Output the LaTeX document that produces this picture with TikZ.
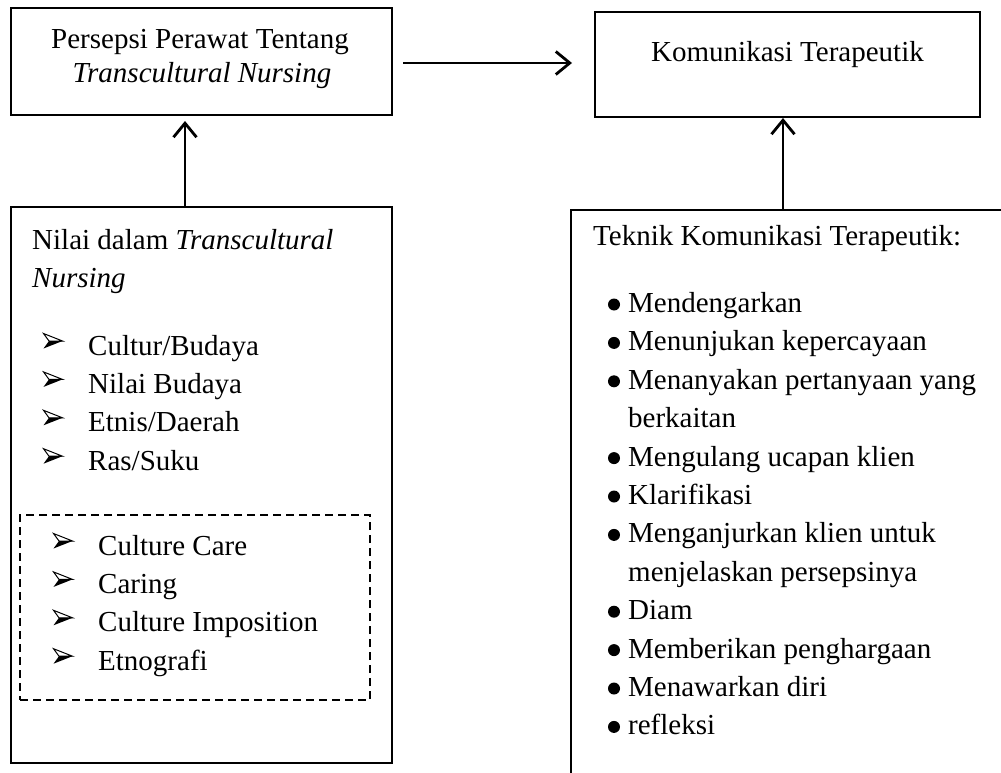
\documentclass[tikz,border=0pt]{standalone}
\usepackage{fontspec}
\setmainfont{Liberation Serif}
\usetikzlibrary{arrows.meta,calc}
\begin{document}
\begin{tikzpicture}[x=1pt,y=-1pt,
  box/.style={draw, line width=2.8pt, inner sep=0pt, outer sep=0pt},
  dashbox/.style={draw, line width=2.2pt, dash pattern=on 8pt off 5pt, inner sep=0pt, outer sep=0pt},
  txt/.style={anchor=base west, inner sep=0pt, font=\fontsize{29}{38}\selectfont},
  link/.style={line width=2.8pt, -{Straight Barb[length=14pt,width=23pt,line width=2.8pt]}},
  arrowbullet/.pic={
    \draw[line width=1pt, line join=miter] (-9.5,-7.5) -- (9.5,0) -- (-4,0) -- cycle;
    \fill (-4,0) -- (9.5,0) -- (-9.5,7.5) -- cycle;
  }
]
\useasboundingbox (0,0) rectangle (1001,773);
\clip (0,0) rectangle (1001,773);
\fill[white] (0,0) rectangle (1001,773);

% boxes
\node[box, minimum width=381pt, minimum height=107pt] (box1) at (201.5,61.5) {};
\node[box, minimum width=385pt, minimum height=105pt] (box2) at (787.5,64.5) {};
\node[box, minimum width=381pt, minimum height=556pt] (box3) at (201.5,485) {};
\node[box, minimum width=469pt, minimum height=590pt] (box4) at (805.5,505) {};
\node[dashbox, minimum width=350pt, minimum height=185pt] (dbox) at (195,607.5) {};

% box texts
\node[txt, anchor=base] (t1a) at (200,49) {Persepsi Perawat Tentang};
\node[txt, anchor=base] (t1b) at (202,83) {\textit{Transcultural Nursing}};
\node[txt, anchor=base] (t2) at (787.5,62) {Komunikasi Terapeutik};

% connectors
\draw[link] ($(box1.east)+(11,1.5)$) -- ($(box1.east -| box2.west)+(-23,1.5)$);
\draw[link] ($(box3.north)+(-16.5,0)$) -- ($(box1.south)+(-16.5,6)$);
\draw[link] ($(box2.south |- box4.north)+(-4.5,0)$) -- ($(box2.south)+(-4.5,1)$);

% left box
\node[txt] (h1) at (32,249) {Nilai dalam \textit{Transcultural}};
\node[txt] (h2) at (32,287) {\textit{Nursing}};
\foreach \t [count=\i from 0] in {Cultur/Budaya, Nilai Budaya, Etnis/Daerah, Ras/Suku} {
  \node[txt] (l\i) at (88,{355+38.4*\i}) {\t};
  \pic at (53,{341+38.4*\i}) {arrowbullet};
}
\foreach \t [count=\i from 0] in {Culture Care, Caring, Culture Imposition, Etnografi} {
  \node[txt] (d\i) at (98,{555+38.4*\i}) {\t};
  \pic at (63,{541+38.4*\i}) {arrowbullet};
}

% right box
\node[txt] (h3) at (593,245) {Teknik Komunikasi Terapeutik:};
\foreach \t/\b [count=\i from 0] in {Mendengarkan/1, Menunjukan kepercayaan/1, Menanyakan pertanyaan yang/1, berkaitan/0, Mengulang ucapan klien/1, Klarifikasi/1, Menganjurkan klien untuk/1, menjelaskan persepsinya/0, Diam/1, Memberikan penghargaan/1, Menawarkan diri/1, refleksi/1} {
  \node[txt] (r\i) at (628,{312.5+38.4*\i}) {\t};
  \ifnum\b=1 \fill (614,{304.5+38.4*\i}) circle[radius=6]; \fi
}
\end{tikzpicture}
\end{document}
